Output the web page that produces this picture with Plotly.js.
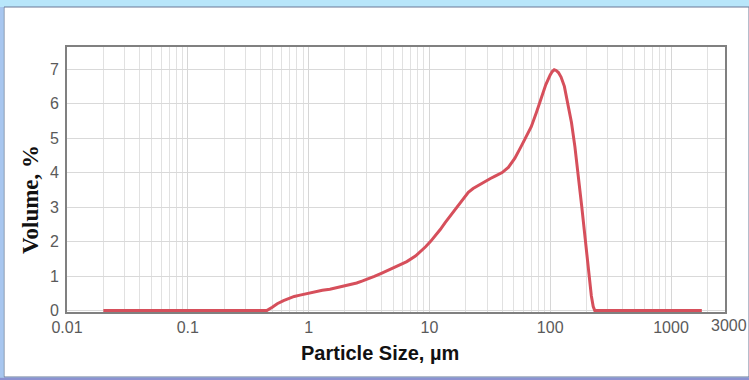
<!DOCTYPE html>
<html>
<head>
<meta charset="utf-8">
<script src="https://cdn.plot.ly/plotly-3.0.1.min.js"></script>
<style>html,body{margin:0;padding:0;background:#fff;}#chart{width:749px;height:380px;}</style>
</head>
<body>
<div id="chart"></div>
<script>
// Particle size (µm) and volume (%)
const particleSize = [0.02, 0.45, 0.5, 0.55, 0.62, 0.68, 0.76, 0.85, 1.0, 1.14, 1.3, 1.5, 1.88, 2.2, 2.5, 2.8, 3.13, 3.5, 4, 4.6, 5.2, 6.5, 7.66, 8.4, 9.3, 10.2, 11.2, 12.3, 13.5, 14.9, 16.4, 18.5, 21, 23, 25.4, 28.8, 32, 35, 40, 45, 51, 57.5, 63, 69.7, 77, 84, 92, 100, 104, 108, 112, 117, 123, 131, 140, 150, 160, 170, 182, 195, 207, 219, 227, 234, 1800];
const volumePct   = [0, 0, 0.1, 0.2, 0.29, 0.35, 0.41, 0.45, 0.51, 0.55, 0.59, 0.62, 0.69, 0.75, 0.8, 0.86, 0.92, 0.99, 1.08, 1.18, 1.27, 1.42, 1.58, 1.7, 1.85, 2.0, 2.16, 2.35, 2.55, 2.75, 2.94, 3.2, 3.43, 3.54, 3.63, 3.75, 3.83, 3.9, 4.0, 4.15, 4.42, 4.76, 5.03, 5.33, 5.75, 6.17, 6.55, 6.83, 6.93, 6.98, 6.96, 6.9, 6.77, 6.5, 6.02, 5.45, 4.76, 4.0, 3.05, 2.07, 1.2, 0.43, 0.12, 0, 0];

const xTickValues = [0.01, 0.1, 1, 10, 100, 1000];
const xTickLabels = ['0.01', '0.1', '1', '10', '100', '1000'];
const xExtraTickValue = 3000;
const xExtraTickLabel = '3000';
const yTickValues = [0, 1, 2, 3, 4, 5, 6, 7];
const xTitle = 'Particle Size, µm';
const yTitle = 'Volume, %';

const minorGrid = [];
for (let d = -2; d <= 3; d++) for (let k = 2; k <= 9; k++) minorGrid.push(k * Math.pow(10, d));

const W = 749, H = 380;
const L = 67, R = 725, T = 47, B = 312;
const xMinLog = -2, xMaxLog = 3.447;
const px = p => (p - L) / (R - L);
const py = p => (B - p) / (B - T);

const tickFont = {family: 'Liberation Sans, Arial, sans-serif', size: 16, color: '#5a5a5a'};

const trace = {
  x: particleSize, y: volumePct, type: 'scatter', mode: 'lines',
  line: {color: '#d64f5b', width: 3, shape: 'linear'},
  hoverinfo: 'x+y'
};

const layout = {
  width: W, height: H,
  margin: {l: L, r: W - R, t: T, b: H - B, pad: 0},
  paper_bgcolor: '#b8e6fa',
  plot_bgcolor: '#ffffff',
  showlegend: false,
  xaxis: {
    type: 'log', range: [xMinLog, xMaxLog], autorange: false,
    tickmode: 'array', tickvals: xTickValues, ticktext: xTickLabels,
    ticks: '', tickfont: tickFont,
    showgrid: true, gridcolor: '#d6d6d6', gridwidth: 1,
    minor: {tickmode: 'array', tickvals: minorGrid, showgrid: true, gridcolor: '#e1e1e1', gridwidth: 1, ticks: ''},
    showline: true, linecolor: '#808080', linewidth: 2, mirror: true,
    zeroline: false
  },
  yaxis: {
    range: [-0.04, 7.64], autorange: false,
    tickmode: 'array', tickvals: yTickValues,
    ticks: '', tickfont: tickFont, ticklabelstandoff: 3,
    showgrid: true, gridcolor: '#d9d9d9', gridwidth: 1,
    showline: true, linecolor: '#808080', linewidth: 2, mirror: true,
    zeroline: false
  },
  annotations: [
    {xref: 'paper', yref: 'paper',
     x: (Math.log10(xExtraTickValue) - xMinLog) / (xMaxLog - xMinLog), y: 0,
     text: xExtraTickLabel, showarrow: false, xanchor: 'center', yanchor: 'top', yshift: -3,
     font: tickFont},
    {xref: 'paper', yref: 'paper', x: px(380), y: py(353),
     text: '<b>' + xTitle + '</b>', showarrow: false, xanchor: 'center', yanchor: 'middle',
     font: {family: 'Liberation Sans, Arial, sans-serif', size: 20, color: '#111111'}},
    {xref: 'paper', yref: 'paper', x: px(30), y: py(200),
     text: '<b>' + yTitle + '</b>', showarrow: false, textangle: -90, xanchor: 'center', yanchor: 'middle',
     font: {family: 'Liberation Serif, Times New Roman, serif', size: 23, color: '#111111'}}
  ],
  shapes: [
    {type: 'rect', xref: 'paper', yref: 'paper', layer: 'below',
     x0: px(4), x1: px(749), y0: py(377), y1: py(7),
     fillcolor: '#ffffff', line: {color: '#6a7896', width: 1}},
    {type: 'rect', xref: 'paper', yref: 'paper', layer: 'below',
     x0: px(0), x1: px(749), y0: py(380), y1: py(377.5),
     fillcolor: '#8c92d0', line: {width: 0}},
    {type: 'rect', xref: 'paper', yref: 'paper', layer: 'below',
     x0: px(0), x1: px(3.5), y0: py(377), y1: py(7),
     fillcolor: '#a8c6ef', line: {width: 0}}
  ]
};

Plotly.newPlot('chart', [trace], layout, {displayModeBar: false, staticPlot: true});
</script>
</body>
</html>
